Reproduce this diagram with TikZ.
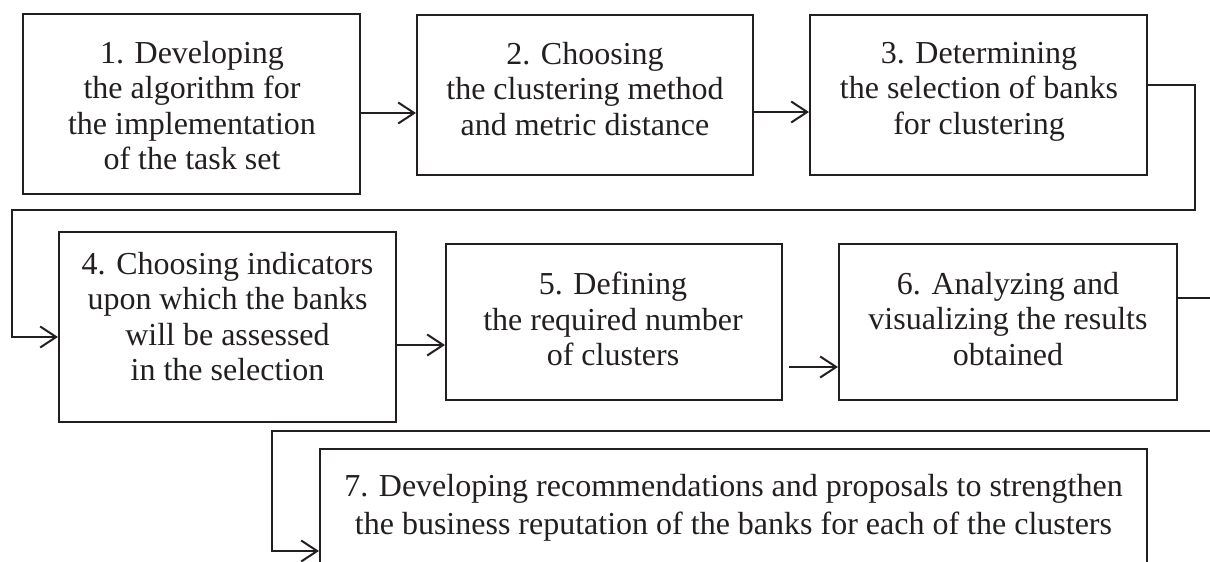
\documentclass[tikz,border=0pt]{standalone}
\usepackage{fontspec}
\setmainfont{Liberation Serif}
\usetikzlibrary{arrows.meta}
\definecolor{ink}{HTML}{231F20}
\begin{document}
\begin{tikzpicture}[x=1pt,y=-1pt,
  stepbox/.style={draw=ink, line width=2pt, rectangle, inner sep=0pt},
  steptext/.style={anchor=north, align=center, inner sep=0pt, text=ink,
    font=\fontsize{32}{35.5}\selectfont},
  widetext/.style={steptext, font=\fontsize{32}{38}\selectfont},
  flow/.style={draw=ink, line width=2pt, -{Straight Barb[length=16pt,width=21pt]}}]
\useasboundingbox (0,0) rectangle (1210,562);

% process steps
\node[stepbox, minimum width=337pt, minimum height=180pt] (b1) at (191.5,104) {};
\node[stepbox, minimum width=336pt, minimum height=160pt] (b2) at (585,95) {};
\node[stepbox, minimum width=337pt, minimum height=160pt] (b3) at (978.5,95) {};
\node[stepbox, minimum width=337pt, minimum height=190pt] (b4) at (227.5,327) {};
\node[stepbox, minimum width=336pt, minimum height=156pt] (b5) at (614,322) {};
\node[stepbox, minimum width=338pt, minimum height=156pt] (b6) at (1008,322) {};
\node[stepbox, minimum width=827pt, minimum height=204pt] (b7) at (733.5,551) {};

\node[steptext] (t1) at (192,41) {1. Developing\\the algorithm for\\the implementation\\of the task set};
\node[steptext] (t2) at (585,42) {2. Choosing\\the clustering method\\and metric distance};
\node[steptext] (t3) at (979,42) {3. Determining\\the selection of banks\\for clustering};
\node[steptext] (t4) at (227.5,252) {4. Choosing indicators\\upon which the banks\\will be assessed\\in the selection};
\node[steptext] (t5) at (613,272) {5. Defining\\the required number\\of clusters};
\node[steptext] (t6) at (1008,272) {6. Analyzing and\\visualizing the results\\obtained};
\node[widetext] (t7) at (733.5,474) {7. Developing recommendations and proposals to strengthen\\the business reputation of the banks for each of the clusters};

% connectors
\coordinate (y12) at (0,113);
\draw[flow] (b1.east |- y12) -- (b2.west |- y12);
\coordinate (y23) at (0,112);
\draw[flow] (b2.east |- y23) -- (b3.west |- y23);
\coordinate (y3o) at (0,85);
\coordinate (r3) at (1195,210);
\coordinate (l4) at (12,337);
\draw[flow] (b3.east |- y3o) -| (r3) -| (l4) -- (b4.west |- l4);
\coordinate (y45) at (0,345);
\draw[flow] (b4.east |- y45) -- (b5.west |- y45);
\coordinate (s56) at (789,367);
\draw[flow] (s56) -- (b6.west |- s56);
\coordinate (y6o) at (0,298);
\coordinate (r6) at (1225,431);
\coordinate (l7) at (272,551);
\draw[flow] (b6.east |- y6o) -| (r6) -| (l7) -- (b7.west |- l7);
\end{tikzpicture}
\end{document}
